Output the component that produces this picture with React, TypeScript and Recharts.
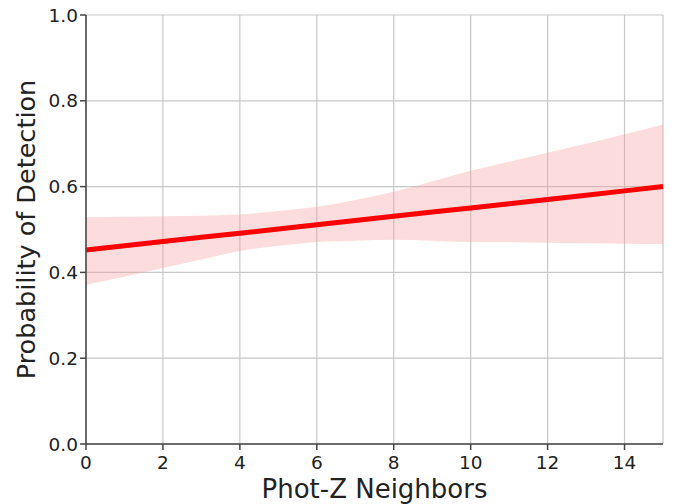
import {
  ComposedChart,
  Area,
  Line,
  XAxis,
  YAxis,
  CartesianGrid,
} from "recharts";

const neighbors = [0, 1, 2, 3, 4, 5, 6, 7, 8, 9, 10, 11, 12, 13, 14, 15];
const fitLine = [0.452, 0.462, 0.472, 0.482, 0.491, 0.501, 0.511, 0.521, 0.531, 0.541, 0.550, 0.560, 0.570, 0.580, 0.590, 0.600];
const bandLow = [0.371, 0.39, 0.41, 0.43, 0.45, 0.462, 0.471, 0.474, 0.476, 0.474, 0.471, 0.47, 0.469, 0.468, 0.467, 0.466];
const bandHigh = [0.529, 0.53, 0.531, 0.532, 0.535, 0.543, 0.553, 0.569, 0.588, 0.612, 0.637, 0.658, 0.679, 0.7, 0.722, 0.745];
const xTicks = [0, 2, 4, 6, 8, 10, 12, 14];
const yTicks = [0, 0.2, 0.4, 0.6, 0.8, 1.0];

const data = neighbors.map((x, i) => ({
  x,
  fit: fitLine[i],
  band: [bandLow[i], bandHigh[i]],
}));

const font = "DejaVu Sans, sans-serif";
const axisColor = "#444";
const tickStyle = { fontSize: 18.5, fill: "#222", fontFamily: font };

export default function App() {
  return (
    <div style={{ position: "absolute", left: 0, top: 0, background: "#fff" }}>
      <ComposedChart
        width={685}
        height={504}
        data={data}
        margin={{ top: 15, right: 22, bottom: 0, left: 0 }}
      >
        <CartesianGrid stroke="#c8c8c8" strokeWidth={1.2} />
        <XAxis
          dataKey="x"
          type="number"
          domain={[0, 15]}
          ticks={xTicks}
          height={60}
          stroke={axisColor}
          strokeWidth={1.5}
          tickSize={6}
          tick={{ ...tickStyle, dy: 4 }}
          label={{
            value: "Phot-Z Neighbors",
            position: "insideBottom",
            offset: 6,
            style: { fontSize: 26, fill: "#222", fontFamily: font },
          }}
        />
        <XAxis
          xAxisId="top"
          dataKey="x"
          type="number"
          domain={[0, 15]}
          orientation="top"
          height={0}
          tick={false}
          tickLine={false}
          stroke={axisColor}
          strokeWidth={1.5}
        />
        <YAxis
          type="number"
          domain={[0, 1]}
          ticks={yTicks}
          width={86}
          stroke={axisColor}
          strokeWidth={1.5}
          tickSize={6}
          tick={tickStyle}
          tickFormatter={(v: number) => v.toFixed(1)}
          label={{
            value: "Probability of Detection",
            angle: -90,
            position: "insideLeft",
            offset: 26,
            style: { fontSize: 25.5, fill: "#222", fontFamily: font, textAnchor: "middle" },
          }}
        />
        <YAxis
          yAxisId="right"
          type="number"
          domain={[0, 1]}
          orientation="right"
          width={0}
          tick={false}
          tickLine={false}
          stroke={axisColor}
          strokeWidth={1.5}
        />
        <Area
          dataKey="band"
          type="monotone"
          stroke="none"
          fill="#f59a9a"
          fillOpacity={0.35}
          isAnimationActive={false}
        />
        <Line
          dataKey="fit"
          type="linear"
          stroke="#ff0000"
          strokeWidth={5}
          dot={false}
          isAnimationActive={false}
        />
      </ComposedChart>
    </div>
  );
}
